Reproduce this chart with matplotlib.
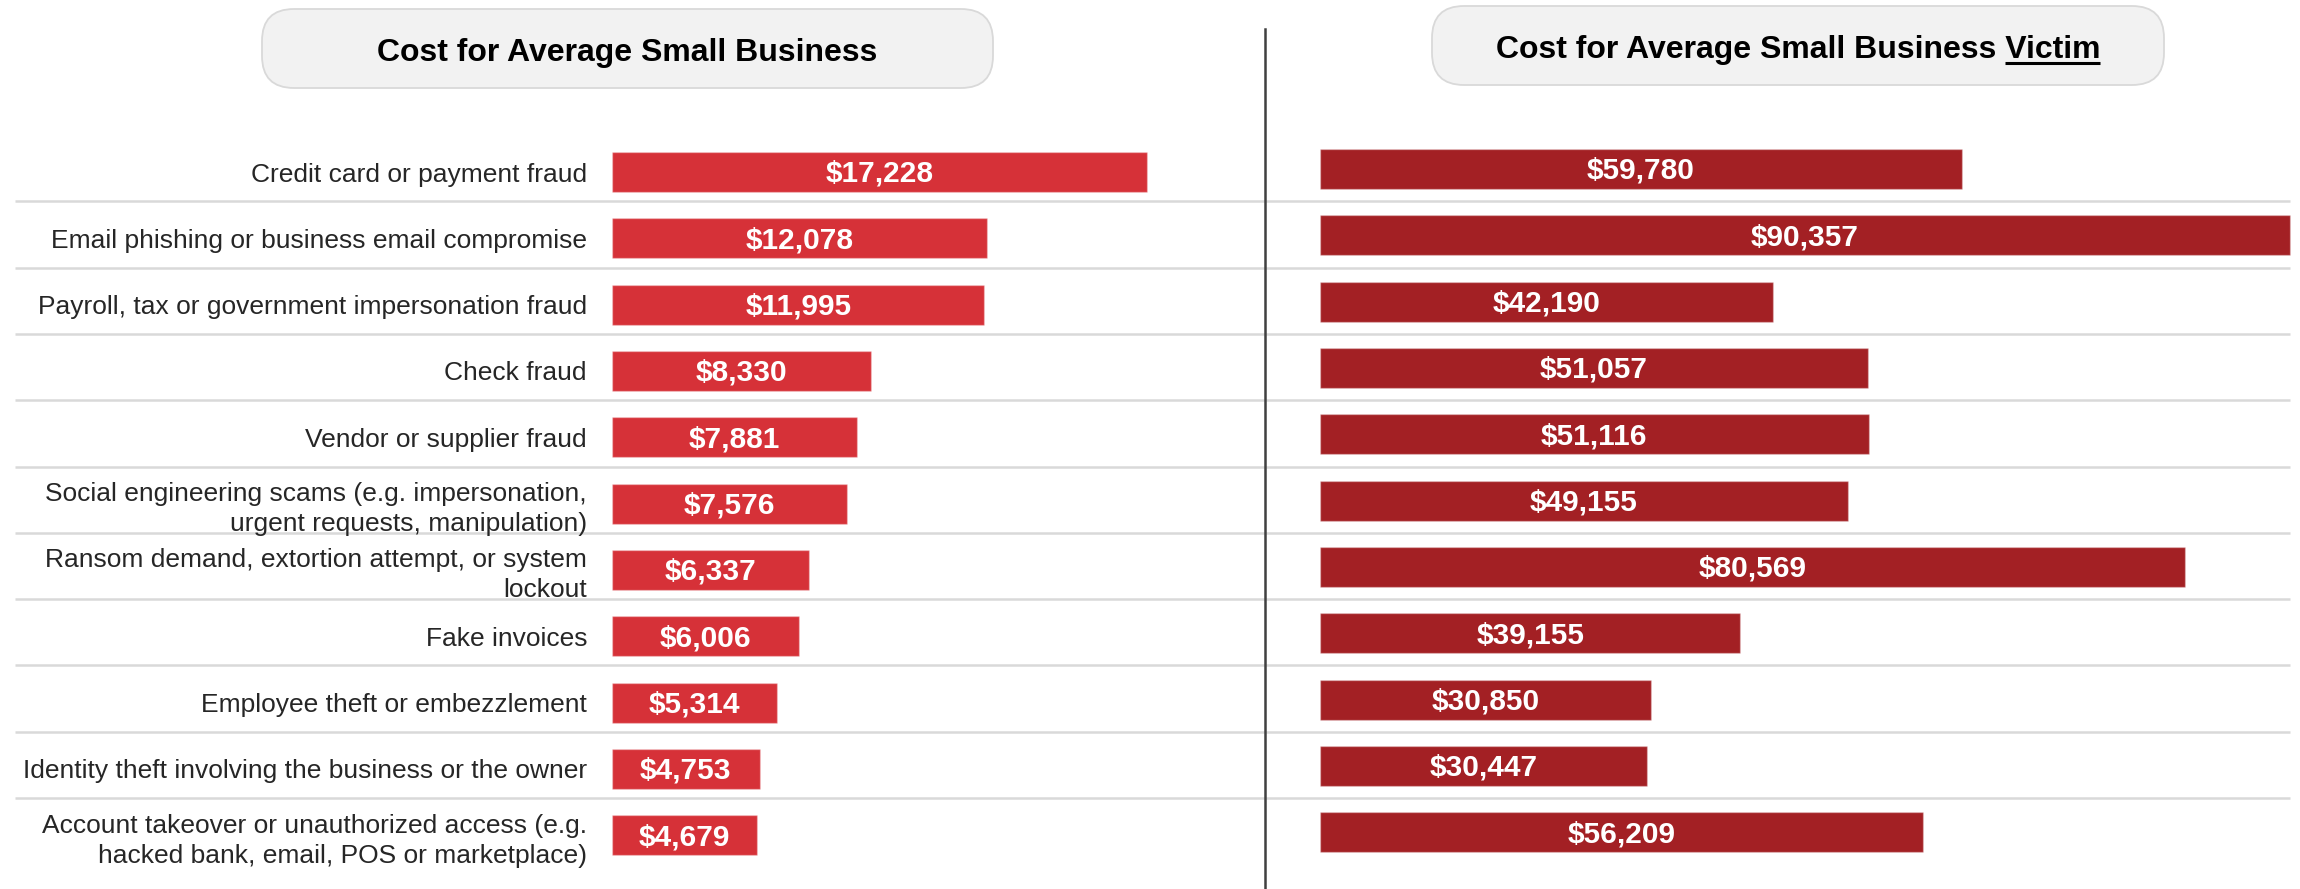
import matplotlib.pyplot as plt
from matplotlib.patches import FancyBboxPatch

plt.rcParams['font.family'] = ['Liberation Sans', 'DejaVu Sans']

categories = [
    'Credit card or payment fraud',
    'Email phishing or business email compromise',
    'Payroll, tax or government impersonation fraud',
    'Check fraud',
    'Vendor or supplier fraud',
    'Social engineering scams (e.g. impersonation,\nurgent requests, manipulation)',
    'Ransom demand, extortion attempt, or system\nlockout',
    'Fake invoices',
    'Employee theft or embezzlement',
    'Identity theft involving the business or the owner',
    'Account takeover or unauthorized access (e.g.\nhacked bank, email, POS or marketplace)',
]
cost_avg = [17228, 12078, 11995, 8330, 7881, 7576, 6337, 6006, 5314, 4753, 4679]
cost_victim = [59780, 90357, 42190, 51057, 51116, 49155, 80569, 39155, 30850, 30447, 56209]
title_left = 'Cost for Average Small Business'
title_right = 'Cost for Average Small Business Victim'
underlined = 'Victim'

# layout, in pixels of the 2300x889 canvas
W, H = 2300, 889
row_gap = 66.33

fig = plt.figure(figsize=(23, 8.89), dpi=100)

bg = fig.add_axes([0, 0, 1, 1])
bg.set_xlim(0, W)
bg.set_ylim(H, 0)
bg.axis('off')


def panel(x0, x1, px_per_dollar, first_row, values, color, labels=None):
    ax = fig.add_axes([x0 / W, 0, (x1 - x0) / W, 1])
    ax.set_facecolor('none')
    ax.set_xlim(0, (x1 - x0) / px_per_dollar)
    ax.set_ylim((H - first_row) / row_gap, -first_row / row_gap)
    rows = list(range(len(values)))
    ax.barh(rows, values, height=0.6, color=color,
            edgecolor=(1, 1, 1, 0.3), linewidth=1)
    for i, v in enumerate(values):
        ax.text(v / 2, i + 0.03, f'${v:,}', ha='center', va='center',
                color='white', fontsize=21.5, fontweight='bold')
    for s in ax.spines.values():
        s.set_visible(False)
    ax.set_xticks([])
    if labels is None:
        ax.set_yticks([])
    else:
        ax.set_yticks(rows)
        ax.set_yticklabels(labels, fontsize=19, color='#262626',
                           linespacing=1.3)
        ax.tick_params(axis='y', length=0, pad=18)
    return ax


panel(612, 1264, 535 / 17228, 172, cost_avg, '#d63138', categories)
panel(1320, 2300, 970 / 90357, 169, cost_victim, '#a32024')

# row separators and the centre divider
for i in range(len(categories) - 1):
    y = 172 + row_gap * (i + 0.44)
    bg.plot([15, 2290], [y, y], color='#d9d9d9', lw=1.8, solid_capstyle='butt')
bg.plot([1265, 1265], [29, H], color='#404040', lw=1.8)

# title pills
for (bx, by, bw, bh) in [(262, 9, 731, 79), (1432, 6, 732, 79)]:
    bg.add_patch(FancyBboxPatch((bx, by), bw, bh,
                                boxstyle='round,pad=0,rounding_size=32',
                                fc='#f2f2f2', ec='#d9d9d9', lw=1.3))
bg.text(627.5, 61, title_left, ha='center', va='baseline',
        fontsize=23, fontweight='bold', color='black')
tr = bg.text(1798, 58, title_right, ha='center', va='baseline',
             fontsize=23, fontweight='bold', color='black')

fig.canvas.draw()
r = fig.canvas.get_renderer()
ext = tr.get_window_extent(r)
tmp = bg.text(0, 0, underlined, fontsize=23, fontweight='bold')
w = tmp.get_window_extent(r).width
tmp.remove()
bg.plot([ext.x1 - w, ext.x1], [62.5, 62.5], color='black', lw=2.2,
        solid_capstyle='butt')

fig.savefig('out.png', dpi=100)
